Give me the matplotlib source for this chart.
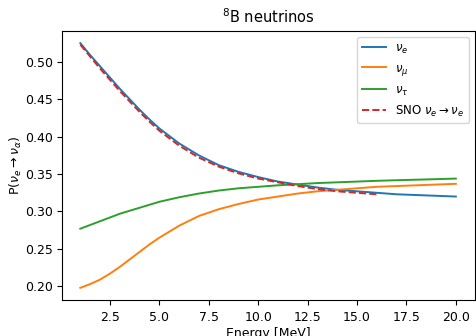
import matplotlib
matplotlib.use("Agg")
import matplotlib.pyplot as plt

plt.rcParams["font.size"] = 9
plt.rcParams["lines.linewidth"] = 1.4

# energies in MeV
energy = [1, 1.5, 2, 2.5, 3, 3.5, 4, 4.5, 5, 6, 7, 8, 9, 10,
          11, 12, 13, 14, 15, 16, 17, 18, 19, 20]
p_e = [0.525, 0.509, 0.494, 0.479, 0.464, 0.450, 0.436, 0.423, 0.411, 0.391, 0.375, 0.362, 0.353, 0.346,
       0.340, 0.336, 0.332, 0.329, 0.327, 0.325, 0.323, 0.322, 0.321, 0.320]
p_mu = [0.198, 0.203, 0.209, 0.217, 0.226, 0.236, 0.246, 0.256, 0.265, 0.281, 0.294, 0.303, 0.310, 0.316,
        0.320, 0.324, 0.327, 0.329, 0.331, 0.333, 0.334, 0.335, 0.336, 0.337]
p_tau = [0.277, 0.282, 0.287, 0.292, 0.297, 0.301, 0.305, 0.309, 0.313, 0.319, 0.324, 0.328, 0.331, 0.333,
         0.335, 0.3365, 0.338, 0.339, 0.340, 0.341, 0.3418, 0.3425, 0.3432, 0.344]

sno_energy = [1, 1.5, 2, 2.5, 3, 3.5, 4, 4.5, 5, 6, 7, 8, 9, 10, 11, 12, 13, 14, 15, 16]
sno_p = [0.523, 0.507, 0.491, 0.476, 0.461, 0.447, 0.433, 0.420, 0.408, 0.388, 0.372, 0.360, 0.351, 0.344,
         0.339, 0.334, 0.330, 0.327, 0.325, 0.323]

fig = plt.figure(figsize=(4.77, 3.36), dpi=100)
ax = fig.add_axes([0.129, 0.107, 0.866, 0.801])

ax.plot(energy, p_e, label=r"$\nu_e$")
ax.plot(energy, p_mu, label=r"$\nu_\mu$")
ax.plot(energy, p_tau, label=r"$\nu_\tau$")
ax.plot(sno_energy, sno_p, "--", color="tab:red", label=r"SNO $\nu_e \rightarrow \nu_e$")

ax.set_title(r"$^8$B neutrinos", fontsize=10.5)
ax.set_xlabel("Energy [MeV]", labelpad=2)
ax.set_ylabel(r"P($\nu_e \rightarrow \nu_\alpha$)", labelpad=1)
ax.tick_params(axis="x", pad=4.5)
ax.tick_params(axis="y", pad=2.5)
ax.legend(loc="upper right", fontsize=8.5)

fig.savefig("out.png")
